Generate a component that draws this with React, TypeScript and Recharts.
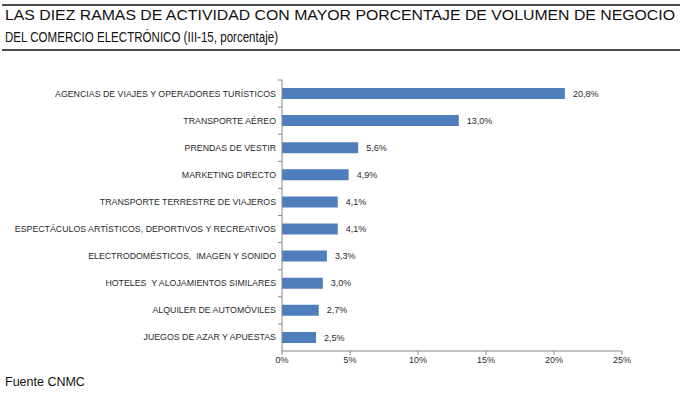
import React from "react";
import { BarChart, Bar, XAxis, YAxis, LabelList } from "recharts";

const categories = [
  "AGENCIAS DE VIAJES Y OPERADORES TURÍSTICOS",
  "TRANSPORTE AÉREO",
  "PRENDAS DE VESTIR",
  "MARKETING DIRECTO",
  "TRANSPORTE TERRESTRE DE VIAJEROS",
  "ESPECTÁCULOS ARTÍSTICOS, DEPORTIVOS Y RECREATIVOS",
  "ELECTRODOMÉSTICOS,  IMAGEN Y SONIDO",
  "HOTELES  Y ALOJAMIENTOS SIMILARES",
  "ALQUILER DE AUTOMÓVILES",
  "JUEGOS DE AZAR Y APUESTAS",
];
const values = [20.8, 13.0, 5.6, 4.9, 4.1, 4.1, 3.3, 3.0, 2.7, 2.5];
const xTicks = [0, 5, 10, 15, 20, 25];
const titleLines = [
  "LAS DIEZ RAMAS DE ACTIVIDAD CON MAYOR PORCENTAJE DE VOLUMEN DE NEGOCIO",
  "DEL COMERCIO ELECTRÓNICO (III-15, porcentaje)",
];
const source = "Fuente CNMC";

const data = categories.map((c, i) => ({ name: c, value: values[i] }));

const FONT = "'Liberation Sans', Arial, sans-serif";
const fmt = (v: number) => v.toFixed(1).replace(".", ",") + "%";

const YTick = (props: any) => {
  const { x, y, payload } = props;
  const half = payload && payload.offset ? payload.offset : 13.55;
  return (
    <g>
      <line x1={x + 1} x2={x + 5} y1={y - half} y2={y - half} stroke="#868686" />
      <text
        x={x - 1}
        y={y}
        dy={3}
        textAnchor="end"
        fontSize={8.8}
        fill="#2a2a2a"
        fontFamily={FONT}
        style={{ whiteSpace: "pre" }}
      >
        {payload.value}
      </text>
    </g>
  );
};

export default function App() {
  return (
    <div style={{ position: "absolute", left: 0, top: 0, width: 682, height: 397, background: "#fff" }}>
      <svg width={682} height={397} style={{ position: "absolute", left: 0, top: 0 }}>
        <line x1={2} x2={680} y1={5} y2={5} stroke="#111" strokeWidth={1.5} />
        <line x1={2} x2={680} y1={50} y2={50} stroke="#111" strokeWidth={1.5} />
        <text x={5} y={20} fontSize={14} fontFamily={FONT} fill="#111" textLength={670} lengthAdjust="spacingAndGlyphs">
          {titleLines[0]}
        </text>
        <text x={5} y={41.5} fontSize={14} fontFamily={FONT} fill="#111" textLength={273} lengthAdjust="spacingAndGlyphs">
          {titleLines[1]}
        </text>
        <text x={5} y={386} fontSize={12.5} fontFamily={FONT} fill="#111">
          {source}
        </text>
      </svg>
      <div style={{ position: "absolute", left: 0, top: 0 }}>
        <BarChart
          width={682}
          height={397}
          data={data}
          layout="vertical"
          margin={{ top: 80, right: 60, bottom: 26, left: 0 }}
          barCategoryGap={0}
        >
          <XAxis
            type="number"
            domain={[0, 25]}
            ticks={xTicks}
            tickFormatter={(v: number) => v + "%"}
            axisLine={{ stroke: "#868686" }}
            tickLine={{ stroke: "#868686" }}
            tickSize={4}
            tick={{ fontSize: 9, fill: "#2a2a2a", fontFamily: FONT }}
            height={20}
          />
          <YAxis
            type="category"
            dataKey="name"
            width={282}
            axisLine={{ stroke: "#868686" }}
            tickLine={false}
            tickSize={0}
            tickMargin={5}
            tick={<YTick />}
            interval={0}
          />
          <Bar dataKey="value" fill="#4F7EBD" barSize={11} isAnimationActive={false}>
            <LabelList
              dataKey="value"
              position="right"
              offset={8}
              formatter={(v: number) => fmt(v)}
              style={{ fontSize: 9, fill: "#2a2a2a", fontFamily: FONT }}
            />
          </Bar>
        </BarChart>
      </div>
    </div>
  );
}
